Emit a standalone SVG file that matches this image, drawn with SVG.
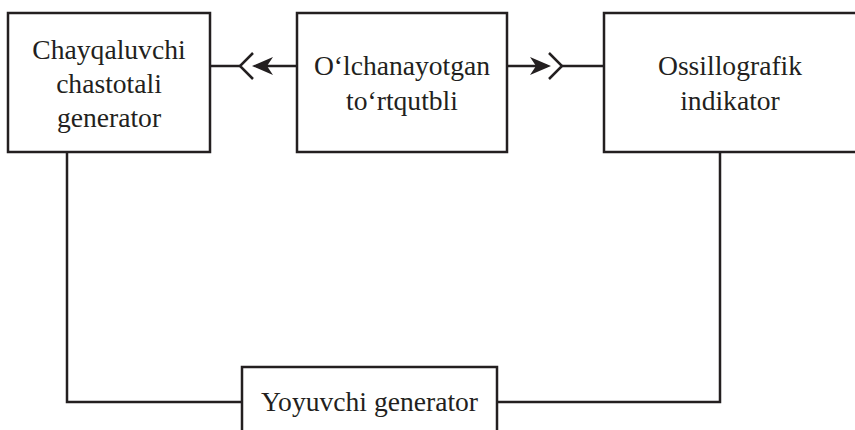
<svg xmlns="http://www.w3.org/2000/svg" width="855" height="430" viewBox="0 0 855 430">
  <style>
    .box { fill: #ffffff; stroke: #231f20; stroke-width: 2.5; }
    .wire { fill: none; stroke: #231f20; stroke-width: 2.5; }
    .label { font-family: "Liberation Serif", "Times New Roman", serif; font-size: 27.6px; fill: #231f20; text-anchor: middle; }
    .head { fill: #231f20; stroke: none; }
  </style>
  <rect width="855" height="430" fill="#ffffff"/>

  <g id="connectors">
    <!-- device under test to sweep generator -->
    <line class="wire" x1="297" y1="66" x2="256" y2="66"/>
    <polygon class="head" points="252,66 273,57 267,66 273,75"/>
    <polyline class="wire" points="253,53 240,66 253,79"/>
    <line class="wire" x1="240" y1="66" x2="210" y2="66"/>
    <!-- device under test to oscilloscope -->
    <line class="wire" x1="507" y1="66" x2="547" y2="66"/>
    <polygon class="head" points="551,66 530,57 536,66 530,75"/>
    <polyline class="wire" points="549,53 562,66 549,79"/>
    <line class="wire" x1="562" y1="66" x2="604" y2="66"/>
    <!-- feedback loop through the sweep generator -->
    <polyline class="wire" points="67,152 67,402 242,402"/>
    <polyline class="wire" points="720,152 720,402 497,402"/>
  </g>

  <g id="node-chayqaluvchi">
    <rect class="box" x="8" y="13" width="202" height="139"/>
    <text class="label" x="109" y="59">Chayqaluvchi</text>
    <text class="label" x="109" y="93">chastotali</text>
    <text class="label" x="109" y="127">generator</text>
  </g>

  <g id="node-olchanayotgan">
    <rect class="box" x="297" y="13" width="210" height="139"/>
    <text class="label" x="402" y="75">O‘lchanayotgan</text>
    <text class="label" x="402" y="110">to‘rtqutbli</text>
  </g>

  <g id="node-ossillografik">
    <rect class="box" x="604" y="13" width="254" height="139"/>
    <text class="label" x="730" y="75">Ossillografik</text>
    <text class="label" x="730" y="110">indikator</text>
  </g>

  <g id="node-yoyuvchi">
    <rect class="box" x="242" y="367" width="255" height="70"/>
    <text class="label" x="369.5" y="411">Yoyuvchi generator</text>
  </g>
</svg>
